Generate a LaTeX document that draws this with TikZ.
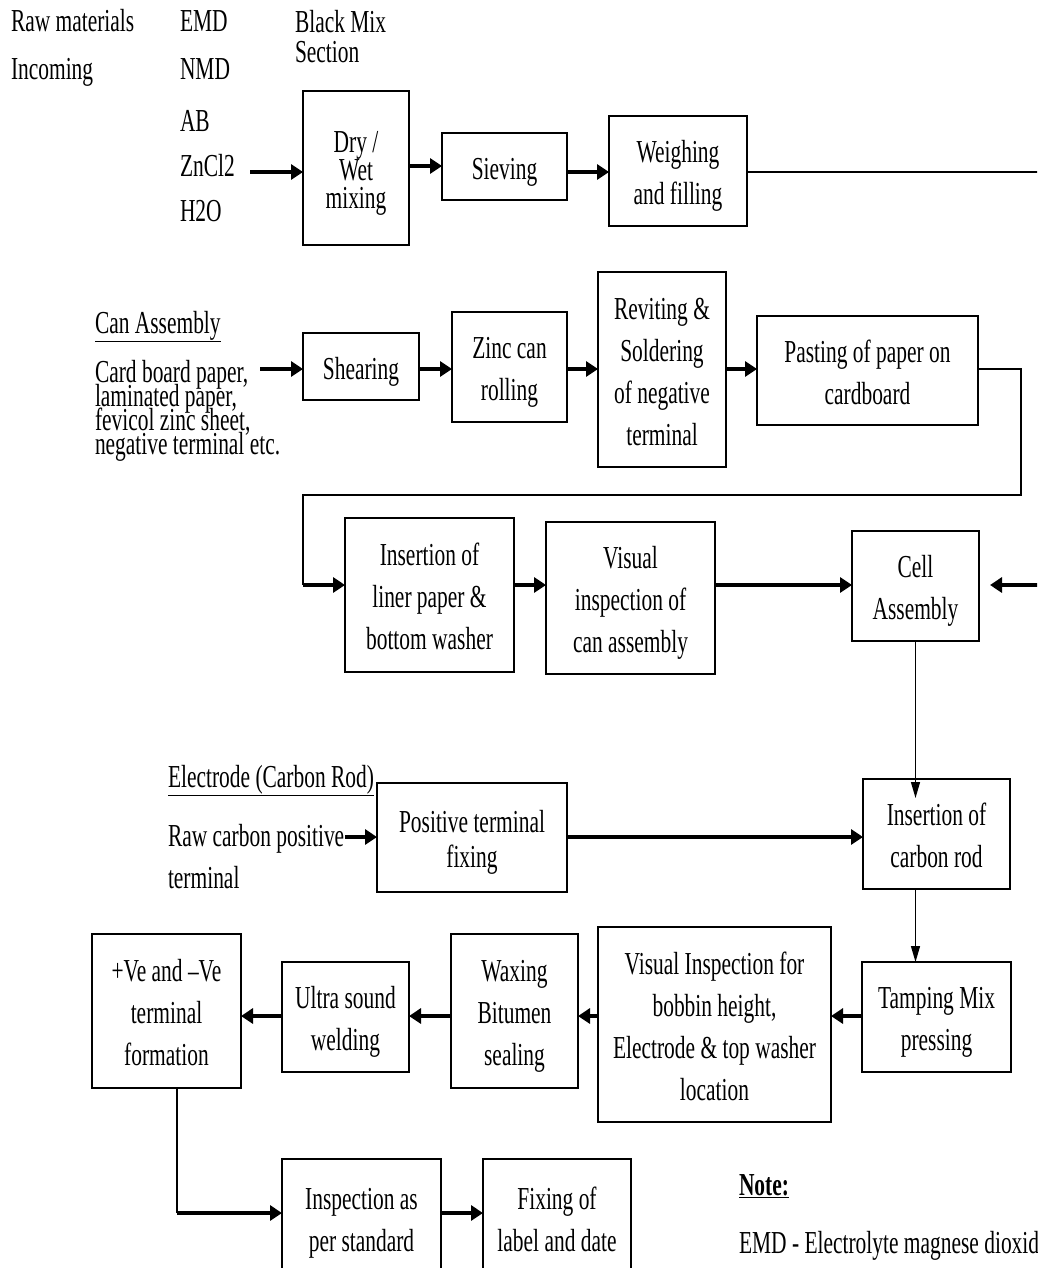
\documentclass[tikz,border=0pt]{standalone}
\usepackage{fontspec}
\setmainfont[FakeStretch=0.67]{Liberation Serif}
\usetikzlibrary{arrows.meta}
\newcommand\mytopstrut{\rule{0pt}{1.05em}}
\newcommand\mybotstrut{\rule[-0.25em]{0pt}{0pt}}
\begin{document}
\begin{tikzpicture}[x=1pt,y=-1pt,
  every node/.style={inner sep=0pt, outer sep=0pt},
  txt/.style={font=\fontsize{32}{42}\selectfont, anchor=base west},
  box/.style={draw, line width=1.3pt, align=center, font=\fontsize{32}{42}\selectfont},
  thinl/.style={line width=1.3pt},
  tarr/.style={line width=1.3pt, -{Triangle[length=16pt,width=9pt]}},
  karr/.style={line width=3.2pt, -{Triangle[length=12pt,width=15pt]}},
]
\useasboundingbox (0,0) rectangle (1037,1268);
\fill[white] (0,0) rectangle (1037,1268);
\clip (0,0) rectangle (1037,1268);

% level coordinates
\coordinate (lA) at (0,166);
\coordinate (lB) at (0,172);
\coordinate (lC) at (0,369);
\coordinate (lD) at (0,585);
\coordinate (lE) at (0,837);
\coordinate (lF) at (0,1016);
\coordinate (lG) at (0,1213);

% free texts
\node[txt] (raw) at (11,32) {Raw materials};
\node[txt] (inc) at (11,80) {Incoming};
\node[txt] (emd) at (180,32) {EMD};
\node[txt] (nmd) at (180,80) {NMD};
\node[txt] (ab) at (180,132) {AB};
\node[txt] (zn) at (180,177) {ZnCl2};
\node[txt] (hto) at (180,222) {H2O};
\node[txt] (bm1) at (295,33) {Black Mix};
\node[txt] (bm2) at (295,63) {Section};

\node[txt] (can) at (95,333) {\underline{Can Assembly}};
\node[txt] (cd1) at (95,382) {Card board paper,};
\node[txt] (cd2) at (95,406) {laminated paper,};
\node[txt] (cd3) at (95,430) {fevicol zinc sheet,};
\node[txt] (cd4) at (95,454) {negative terminal etc.};

\node[txt] (elec) at (168,787) {\underline{Electrode (Carbon Rod)}};
\node[txt] (rc1) at (168,846) {Raw carbon positive};
\node[txt] (rc2) at (168,888) {terminal};

\node[txt] (note) at (739,1195) {\underline{\bfseries Note:}};
\node[txt] (emdn) at (739,1253) {EMD - Electrolyte magnese dioxide};

% boxes
\node[box, minimum width=106pt, minimum height=154pt, font=\fontsize{32}{28}\selectfont] (dry) at (356,168) {\mytopstrut Dry /\\Wet\\mixing\mybotstrut};
\node[box, minimum width=125pt, minimum height=67pt] (siev) at (504.5,166.5) {\mytopstrut Sieving\mybotstrut};
\node[box, minimum width=138pt, minimum height=110pt] (weigh) at (678,171) {\mytopstrut Weighing\\and filling\mybotstrut};

\node[box, minimum width=116pt, minimum height=67pt] (shear) at (361,366.5) {\mytopstrut Shearing\mybotstrut};
\node[box, minimum width=115pt, minimum height=110pt] (zinc) at (509.5,367) {\mytopstrut Zinc can\\rolling\mybotstrut};
\node[box, minimum width=128pt, minimum height=195pt] (revit) at (662,369.5) {\mytopstrut Reviting \&\\Soldering\\of negative\\terminal\mybotstrut};
\node[box, minimum width=221pt, minimum height=109pt] (paste) at (867.5,370.5) {\mytopstrut Pasting of paper on\\cardboard\mybotstrut};

\node[box, minimum width=169pt, minimum height=154pt] (insl) at (429.5,595) {\mytopstrut Insertion of\\liner paper \&\\bottom washer\mybotstrut};
\node[box, minimum width=169pt, minimum height=152pt] (visc) at (630.5,598) {\mytopstrut Visual\\inspection of\\can assembly\mybotstrut};
\node[box, minimum width=127pt, minimum height=110pt] (cell) at (915.5,586) {\mytopstrut Cell\\Assembly\mybotstrut};

\node[box, minimum width=190pt, minimum height=109pt, font=\fontsize{32}{35}\selectfont] (post) at (472,837.5) {\mytopstrut Positive terminal\\fixing\mybotstrut};
\node[box, minimum width=147pt, minimum height=110pt] (insc) at (936.5,834) {\mytopstrut Insertion of\\carbon rod\mybotstrut};

\node[box, minimum width=149pt, minimum height=110pt] (tamp) at (936.5,1017) {\mytopstrut Tamping Mix\\pressing\mybotstrut};
\node[box, minimum width=233pt, minimum height=195pt] (visi) at (714.5,1024.5) {\mytopstrut Visual Inspection for\\bobbin height,\\Electrode \& top washer\\location\mybotstrut};
\node[box, minimum width=127pt, minimum height=154pt] (wax) at (514.5,1011) {\mytopstrut Waxing\\Bitumen\\sealing\mybotstrut};
\node[box, minimum width=127pt, minimum height=110pt] (ultra) at (345.5,1017) {\mytopstrut Ultra sound\\welding\mybotstrut};
\node[box, minimum width=149pt, minimum height=154pt] (pve) at (166.5,1011) {\mytopstrut +Ve and –Ve\\terminal\\formation\mybotstrut};

\node[box, minimum width=159pt, minimum height=118pt] (insp) at (361.5,1218) {\mytopstrut Inspection as\\per standard\mybotstrut};
\node[box, minimum width=148pt, minimum height=118pt] (fix) at (557,1218) {\mytopstrut Fixing of\\label and date\mybotstrut};

% connector coordinates
\coordinate (znA) at (250,172);
\coordinate (rightA) at (1045,172);
\coordinate (cardA) at (260,369);
\coordinate (cR) at (1021,495);
\coordinate (cL) at (303,585);
\coordinate (rightB) at (1045,585);
\coordinate (tipB) at (990,585);
\coordinate (tipC) at (0,798);
\coordinate (rcA) at (345,837);
\coordinate (cG) at (177,1213);

% row 1
\draw[karr] (znA) -- (znA -| dry.west);
\draw[karr] (dry.east |- lA) -- (siev.west |- lA);
\draw[karr] (siev.east |- lB) -- (weigh.west |- lB);
\draw[thinl] (weigh.east |- lB) -- (rightA);

% row 2
\draw[karr] (cardA) -- (cardA -| shear.west);
\draw[karr] (shear.east |- lC) -- (zinc.west |- lC);
\draw[karr] (zinc.east |- lC) -- (revit.west |- lC);
\draw[karr] (revit.east |- lC) -- (paste.west |- lC);
\draw[thinl] (paste.east |- lC) -| (cR) -| (cL);
\draw[karr] (cL) -- (cL -| insl.west);

% row 3
\draw[karr] (insl.east |- lD) -- (visc.west |- lD);
\draw[karr] (visc.east |- lD) -- (cell.west |- lD);
\draw[karr] (rightB) -- (tipB);
\draw[tarr] (cell.south) -- (cell.south |- tipC);

% electrode row
\draw[karr] (rcA) -- (rcA -| post.west);
\draw[karr] (post.east |- lE) -- (insc.west |- lE);
\draw[tarr] (insc.south -| cell.south) -- (tamp.north -| cell.south);

% row 4
\draw[karr] (tamp.west |- lF) -- (visi.east |- lF);
\draw[karr] (visi.west |- lF) -- (wax.east |- lF);
\draw[karr] (wax.west |- lF) -- (ultra.east |- lF);
\draw[karr] (ultra.west |- lF) -- (pve.east |- lF);

% row 5
\draw[thinl] (pve.south -| cG) -- (cG);
\draw[karr] (cG) -- (cG -| insp.west);
\draw[karr] (insp.east |- lG) -- (fix.west |- lG);
\end{tikzpicture}
\end{document}
